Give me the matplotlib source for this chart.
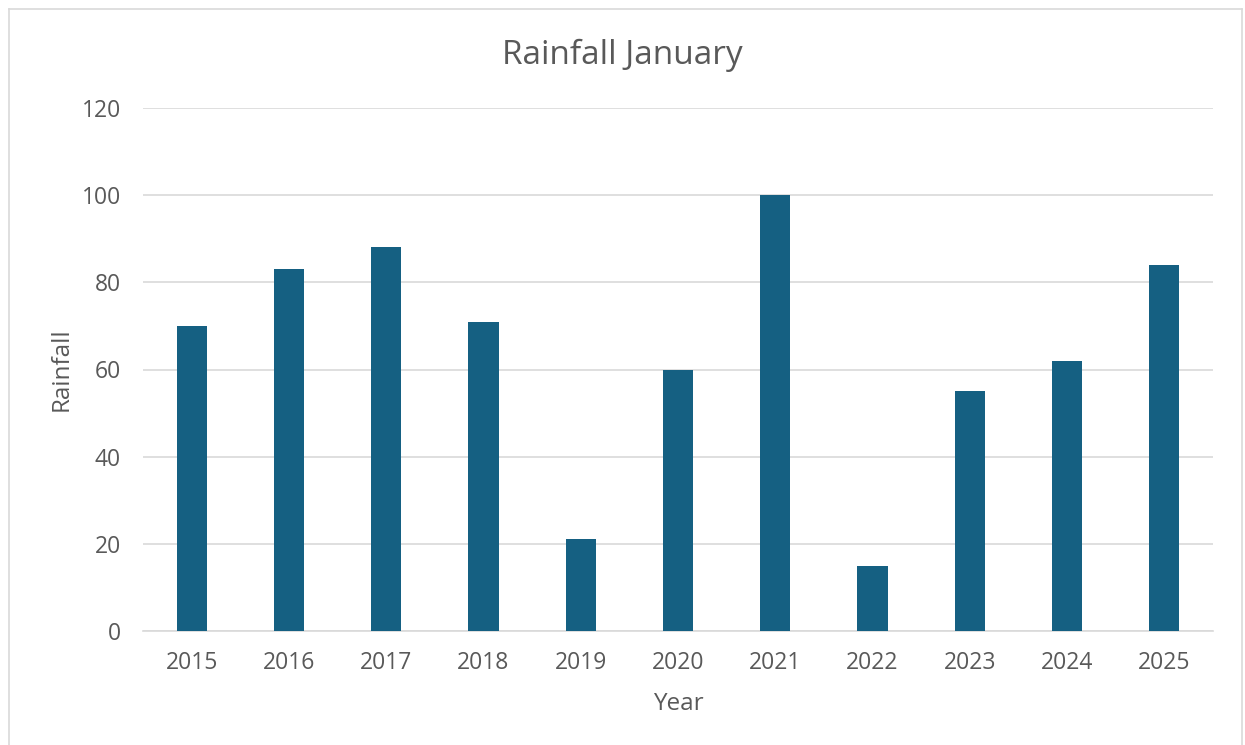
import matplotlib
matplotlib.use('Agg')
import matplotlib.pyplot as plt
from matplotlib.lines import Line2D

years = ['2015', '2016', '2017', '2018', '2019', '2020', '2021', '2022', '2023', '2024', '2025']
rainfall = [70, 83, 88, 71, 21, 60, 100, 15, 55, 62, 84]


def main():
    plt.rcParams['font.family'] = ['Open Sans', 'DejaVu Sans']
    text_col = '#595959'

    fig = plt.figure(figsize=(12.45, 7.45), dpi=100)
    ax = fig.add_axes([143 / 1245, 1 - 631 / 745, (1213 - 143) / 1245, (631 - 108) / 745])

    x = range(len(years))
    ax.bar(x, rainfall, width=0.31, color='#156082', zorder=3)
    ax.set_xlim(-0.5, len(years) - 0.5)
    ax.set_ylim(0, 120)
    ax.set_yticks(range(0, 121, 20))
    ax.set_xticks(list(x))
    ax.set_xticklabels(years)

    ax.grid(axis='y', color='#d9d9d9', linewidth=1.2, zorder=0)
    for s in ['top', 'right', 'left']:
        ax.spines[s].set_visible(False)
    ax.spines['bottom'].set_color('#d9d9d9')
    ax.spines['bottom'].set_linewidth(1.2)
    ax.tick_params(length=0, labelsize=16.5, colors=text_col)
    ax.tick_params(axis='x', pad=14.5)
    ax.tick_params(axis='y', pad=16)

    fig.text(0.5, 1 - 55 / 745, 'Rainfall January', fontsize=24, color=text_col,
             ha='center', va='center')
    ax.set_xlabel('Year', fontsize=17.5, color=text_col, labelpad=12)
    ax.set_ylabel('Rainfall', fontsize=17.5, color=text_col, labelpad=6)

    # chart border like the spreadsheet frame
    bc = '#d9d9d9'
    fig.add_artist(Line2D([9 / 1245, 9 / 1245], [0, 1 - 9 / 745], color=bc, lw=1.2))
    fig.add_artist(Line2D([9 / 1245, 1242 / 1245], [1 - 9 / 745, 1 - 9 / 745], color=bc, lw=1.2))
    fig.add_artist(Line2D([1242 / 1245, 1242 / 1245], [0, 1 - 9 / 745], color=bc, lw=1.2))

    fig.savefig('out.png', dpi=100)


if __name__ == '__main__':
    main()
